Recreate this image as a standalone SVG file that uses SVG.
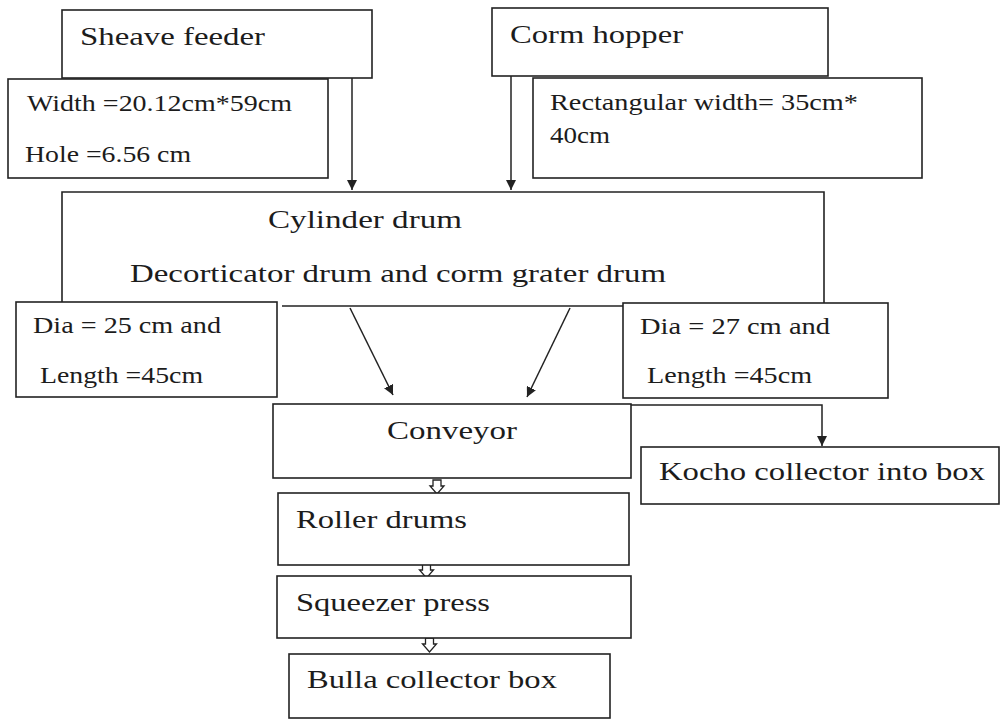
<svg xmlns="http://www.w3.org/2000/svg" width="1000" height="720" viewBox="0 0 1000 720" font-family="Liberation Serif, Times New Roman, Tinos, DejaVu Serif, serif">
<style>
.box{fill:#fff;stroke:#222;stroke-width:1.6}
.ln{fill:none;stroke:#222;stroke-width:1.5}
text{fill:#1c1c1c}
.m{font-size:25px}
.s{font-size:23px}
.ha{fill:#fff;stroke:#222;stroke-width:1.3}
</style>
<defs>
<marker id="ah" viewBox="0 0 10 10" refX="10" refY="5" markerWidth="10" markerHeight="10" markerUnits="userSpaceOnUse" orient="auto">
<path d="M0 0 L10 5 L0 10 Z" fill="#222"/>
</marker>
<path id="hollow" d="M -4 -14 H 4 V -8 H 7 L 0 0 L -7 -8 H -4 Z"/>
</defs>
<rect width="1000" height="720" fill="#fff"/>

<g id="connectors">
<path class="ln" d="M352 78 V190" marker-end="url(#ah)"/>
<path class="ln" d="M511 76 V190" marker-end="url(#ah)"/>
<path class="ln" d="M350 308 L393 395" marker-end="url(#ah)"/>
<path class="ln" d="M570 308 L527 397" marker-end="url(#ah)"/>
<path class="ln" d="M631 405 H822 V446" marker-end="url(#ah)"/>
<use href="#hollow" class="ha" transform="translate(437,494)"/>
<use href="#hollow" class="ha" transform="translate(426.5,578)"/>
<use href="#hollow" class="ha" transform="translate(429.5,652)"/>
</g>

<g id="sheave-feeder">
<rect class="box" x="62" y="10" width="310" height="68"/>
<text class="m" x="80" y="45" textLength="185" lengthAdjust="spacingAndGlyphs">Sheave feeder</text>
</g>

<g id="sheave-spec">
<rect class="box" x="8" y="79" width="320" height="99"/>
<text class="s" x="27" y="111" textLength="265" lengthAdjust="spacingAndGlyphs">Width =20.12cm*59cm</text>
<text class="s" x="25" y="162" textLength="166" lengthAdjust="spacingAndGlyphs">Hole =6.56 cm</text>
</g>

<g id="corm-hopper">
<rect class="box" x="492" y="8" width="336" height="68"/>
<text class="m" x="510" y="43" textLength="173" lengthAdjust="spacingAndGlyphs">Corm hopper</text>
</g>

<g id="hopper-spec">
<rect class="box" x="533" y="78" width="389" height="100"/>
<text class="s" x="550" y="110" textLength="308" lengthAdjust="spacingAndGlyphs">Rectangular width= 35cm*</text>
<text class="s" x="550" y="143" textLength="60" lengthAdjust="spacingAndGlyphs">40cm</text>
</g>

<g id="cylinder-drum">
<path class="box" d="M62 302 V192 H824 V303"/>
<path class="ln" d="M282 306 H623"/>
<text class="m" x="268" y="228" textLength="194" lengthAdjust="spacingAndGlyphs">Cylinder drum</text>
<text class="m" x="130" y="282" textLength="536" lengthAdjust="spacingAndGlyphs">Decorticator drum and corm grater drum</text>
</g>

<g id="decorticator-spec">
<rect class="box" x="16" y="302" width="261" height="95"/>
<text class="s" x="33" y="333" textLength="188" lengthAdjust="spacingAndGlyphs">Dia = 25 cm and</text>
<text class="s" x="40" y="383" textLength="163" lengthAdjust="spacingAndGlyphs">Length =45cm</text>
</g>

<g id="grater-spec">
<rect class="box" x="623" y="303" width="265" height="95"/>
<text class="s" x="640" y="334" textLength="190" lengthAdjust="spacingAndGlyphs">Dia = 27 cm and</text>
<text class="s" x="647" y="383" textLength="165" lengthAdjust="spacingAndGlyphs">Length =45cm</text>
</g>

<g id="conveyor">
<rect class="box" x="273" y="404" width="358" height="74"/>
<text class="m" x="387" y="439" textLength="130" lengthAdjust="spacingAndGlyphs">Conveyor</text>
</g>

<g id="kocho-collector">
<rect class="box" x="641" y="447" width="358" height="57"/>
<text class="m" x="659" y="480" textLength="326" lengthAdjust="spacingAndGlyphs">Kocho collector into box</text>
</g>

<g id="roller-drums">
<rect class="box" x="278" y="493" width="351" height="72"/>
<text class="m" x="296" y="528" textLength="171" lengthAdjust="spacingAndGlyphs">Roller drums</text>
</g>

<g id="squeezer-press">
<rect class="box" x="277" y="576" width="354" height="62"/>
<text class="m" x="296" y="611" textLength="194" lengthAdjust="spacingAndGlyphs">Squeezer press</text>
</g>

<g id="bulla-collector">
<rect class="box" x="289" y="654" width="321" height="64"/>
<text class="m" x="307" y="688" textLength="250" lengthAdjust="spacingAndGlyphs">Bulla collector box</text>
</g>
</svg>
